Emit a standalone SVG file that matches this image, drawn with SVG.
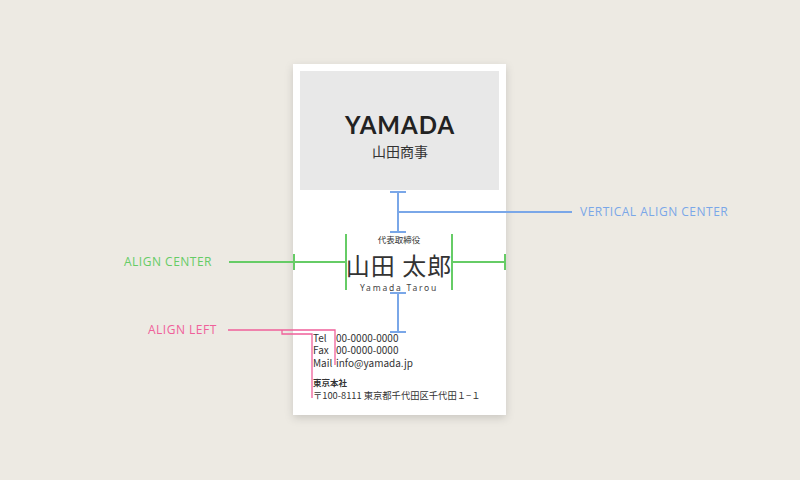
<svg xmlns="http://www.w3.org/2000/svg" width="800" height="480" viewBox="0 0 800 480">
<defs>
<style>
.b{stroke:#7aa7e8;stroke-width:2;fill:none}
.g{stroke:#66cc66;stroke-width:2;fill:none}
.p{stroke:#f0609a;stroke-width:1.3;fill:none}
.lab{font-family:"Open Sans","Liberation Sans",sans-serif;font-size:12px;letter-spacing:0.5px}
.jp{font-family:"Noto Sans CJK JP",sans-serif;fill:#333}
</style>
<filter id="sh" x="-20%" y="-20%" width="140%" height="140%"><feDropShadow dx="0" dy="3" stdDeviation="4" flood-color="#000" flood-opacity="0.15"/></filter>
</defs>
<rect width="800" height="480" fill="#edeae3"/>
<g id="card">
<rect x="293" y="64" width="213" height="351" fill="#fff" filter="url(#sh)"/>
<rect x="300" y="71" width="199" height="119" fill="#e8e8e8"/>
<text x="400" y="134" text-anchor="middle" font-family="Lato,'Liberation Sans',sans-serif" font-weight="bold" font-size="24" fill="#222" letter-spacing="1">YAMADA</text>
<text x="400" y="157" text-anchor="middle" class="jp" font-size="14">山田商事</text>
<text x="399" y="243" text-anchor="middle" class="jp" font-size="8.5">代表取締役</text>
<text x="399" y="275" text-anchor="middle" class="jp" font-size="24" letter-spacing="1">山田 太郎</text>
<text x="399" y="291" text-anchor="middle" font-family="'Noto Sans',sans-serif" font-size="8.5" fill="#444" letter-spacing="1.8">Yamada Tarou</text>
<g class="jp" font-size="10">
<text x="313" y="342">Tel</text><text x="336" y="342">00-0000-0000</text>
<text x="313" y="354">Fax</text><text x="336" y="354">00-0000-0000</text>
<text x="313" y="367">Mail</text><text x="336" y="367">info@yamada.jp</text>
<text x="313" y="386" font-weight="bold" font-size="8.5">東京本社</text>
<text x="313" y="399" font-size="9.3">〒100-8111 東京都千代田区千代田１−１</text>
</g>
</g>
<g id="connectors">
<path class="b" d="M390,192H406M398,192V232M390,232H406M398,212H572M390,293H406M398,293V332M390,332H406"/>
<path class="g" d="M346,234V290M452,234V290M229,262H346M452,262H505M294,254V270M505,254V270"/>
<path class="p" d="M228,330H335V365M282,330V334H312V398"/>
</g>
<g id="labels" class="lab">
<text x="580" y="216" fill="#7aa7e8">VERTICAL ALIGN CENTER</text>
<text x="124" y="266" fill="#66cc66">ALIGN CENTER</text>
<text x="148" y="334" fill="#f0609a">ALIGN LEFT</text>
</g>
</svg>
